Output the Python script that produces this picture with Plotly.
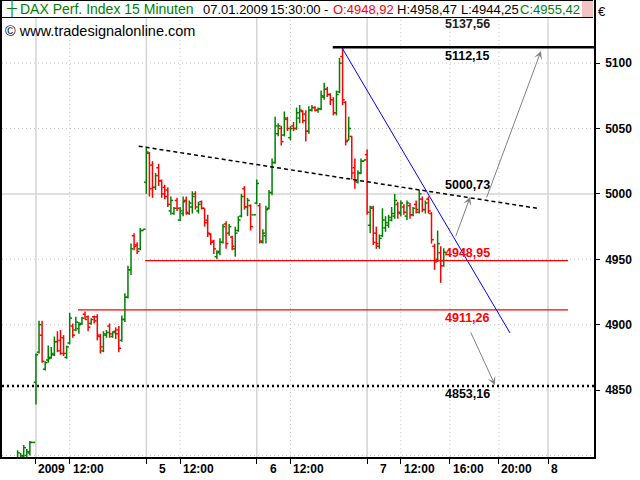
import plotly.graph_objects as go

# ---------------- data (15-minute bars, DAX) ----------------
first_bar = -114          # bar index of first bar; day starts: 2 Jan=-108, 5 Jan=-72, 6 Jan=-36, 7 Jan=0
opens = [4792, 4796, 4799, 4800, 4802, 4810,
         4856, 4879, 4892, 4866, 4873, 4875, 4877, 4887, 4888, 4890, 4875, 4886, 4899, 4896, 4897, 4901, 4908, 4906,
         4901, 4906, 4906, 4891, 4880, 4892, 4899, 4891, 4895, 4896, 4888, 4904, 4921, 4942, 4968, 4961, 4958, 4972,
         5009, 5031, 5022, 5005, 5020, 5010, 5005, 5003, 4987, 4985, 4995, 4980, 4985, 4995, 4985, 4990, 5000, 4987,
         4994, 4989, 4980, 4969, 4964, 4952, 4956, 4963, 4977, 4970, 4967, 4958, 4972, 4983, 5004, 4990, 4991, 4984,
         4993, 4991, 4963, 4968, 4989, 5001, 5024, 5046, 5050, 5045, 5057, 5043, 5052, 5050, 5058, 5063, 5061, 5048,
         5064, 5066, 5064, 5065, 5074, 5080, 5076, 5072, 5062, 5078, 5105, 5070, 5041, 5044, 5020, 5009, 5016, 5025,
         5030, 4976, 4989, 4970, 4960, 4968, 4974, 4976, 4980, 4983, 4992, 4985, 4990, 4983, 4991, 4984, 4992, 4986,
         4996, 4988, 4996, 4985, 4960, 4950, 4955, 4948.92]
highs = [4804, 4802, 4808, 4805, 4811, 4810,
         4878, 4903, 4903, 4872, 4884, 4883, 4891, 4895, 4896, 4892, 4884, 4909, 4901, 4906, 4902, 4906, 4910, 4907,
         4905, 4907, 4908, 4893, 4895, 4896, 4901, 4895, 4898, 4899, 4907, 4924, 4945, 4962, 4970, 4963, 4974, 4973,
         5035, 5032, 5025, 5016, 5023, 5011, 5007, 5005, 4998, 4990, 4997, 4990, 4998, 4998, 4995, 5002, 5002, 4994,
         4995, 4989, 4984, 4970, 4965, 4957, 4966, 4977, 4979, 4977, 4968, 4975, 4983, 5000, 5006, 4997, 4992, 4984,
         5011, 4993, 4973, 4991, 5003, 5027, 5059, 5054, 5052, 5063, 5059, 5052, 5055, 5066, 5068, 5064, 5064, 5067,
         5068, 5067, 5066, 5079, 5085, 5082, 5077, 5074, 5079, 5104, 5112.15, 5071, 5059, 5044, 5027, 5018, 5027, 5026,
         5034, 4991, 4991, 4975, 4969, 4989, 4983, 4984, 4990, 5000, 4994, 4995, 4992, 4995, 4993, 4990, 4995, 5003,
         4998, 4995, 4998, 4986, 4962, 4972, 4960, 4958.47]
lows = [4788, 4790, 4795, 4796, 4800, 4810,
        4839, 4878, 4871, 4865, 4871, 4874, 4876, 4879, 4877, 4876, 4874, 4885, 4890, 4895, 4893, 4900, 4904, 4895,
        4900, 4901, 4888, 4878, 4879, 4890, 4890, 4890, 4889, 4879, 4887, 4902, 4920, 4938, 4957, 4954, 4957, 4972,
        5000, 4998, 4997, 5003, 5006, 4997, 4996, 4990, 4984, 4984, 4987, 4979, 4983, 4984, 4984, 4985, 4988, 4985,
        4988, 4975, 4967, 4961, 4954, 4950, 4953, 4962, 4958, 4968, 4957, 4952, 4971, 4982, 4988, 4983, 4972, 4984,
        4992, 4962, 4962, 4962, 4988, 4999, 5023, 5044, 5037, 5044, 5048, 5041, 5048, 5049, 5054, 5054, 5040, 5046,
        5063, 5063, 5062, 5064, 5072, 5074, 5068, 5060, 5060, 5077, 5068, 5037, 5041, 5011, 5004, 5008, 5015, 5025,
        4984, 4970, 4961, 4958, 4958, 4967, 4971, 4974, 4979, 4981, 4981, 4983, 4984, 4980, 4981, 4983, 4985, 4985,
        4986, 4985, 4985, 4962, 4942, 4948, 4932, 4944.25]
closes = [4802, 4800, 4806, 4803, 4810, 4810,
          4877, 4900, 4872, 4871, 4874, 4878, 4887, 4880, 4878, 4878, 4883, 4905, 4892, 4902, 4900, 4905, 4904, 4898,
          4904, 4903, 4892, 4883, 4893, 4894, 4893, 4894, 4893, 4882, 4904, 4921, 4942, 4958, 4960, 4956, 4972, 4973,
          5032, 5004, 5005, 5014, 5010, 5000, 4998, 4992, 4995, 4989, 4989, 4987, 4994, 4986, 4993, 4998, 4990, 4992,
          4989, 4978, 4970, 4963, 4958, 4955, 4963, 4975, 4962, 4975, 4960, 4970, 4980, 4998, 4990, 4995, 4975, 4984,
          5008, 4964, 4970, 4988, 5001, 5024, 5052, 5052, 5040, 5058, 5050, 5050, 5050, 5062, 5064, 5056, 5048, 5064,
          5066, 5064, 5065, 5075, 5080, 5076, 5072, 5062, 5076, 5100, 5072, 5040, 5050, 5016, 5010, 5016, 5025, 5026,
          4986, 4990, 4963, 4962, 4966, 4980, 4978, 4982, 4985, 4995, 4986, 4993, 4986, 4993, 4984, 4989, 4988, 5000,
          4988, 4993, 4987, 4965, 4948, 4962, 4945, 4955.42]
bar_idx = list(range(first_bar, first_bar + len(opens)))

# time axis (bar index units)
tick_vals = [-108, -97, -72, -61, -36, -25, 0, 11, 27, 43, 59]
tick_text = ["2009", "12:00", "5", "12:00", "6", "12:00", "7", "12:00", "16:00", "20:00", "8"]
tick_label_shift = [0.5, 1, 11, 1, 11, 1, 11, 1, 1, 0.5, 0.5]
day_lines = [-108, -72, -36, 0, 59]
hour_lines = [-97, -61, -25, 11, 27, 43]
price_ticks = [4850, 4900, 4950, 5000, 5050, 5100]
grid_prices = [4800, 4850, 4900, 4950, 5050, 5100]
major_price = 5000
x_range = [-119.08, 74.0]
y_range = [4798.85, 5148.24]

# drawing tools
level_values = [5137.56, 5112.15, 5000.73, 4948.95, 4911.26, 4853.16]
level_colors = ["#202020", "black", "black", "red", "red", "black"]
level_label_shift = [-10, -9, 8, 8, -8, -8]
label_x = 24.6
resistance = 5112.15
resistance_start = -11.2
support_levels = [4948.95, 4911.26]
support_starts = [-72.4, -94.3]
support_end = 65.5
target_level = 4853.16
trend_x = [-74.5, 55.5]
trend_y = [5036.5, 4989.0]
down_x = [-8.3, 46.6]
down_y = [5112.15, 4893.7]
arrow_tail = [(28.7, 4966.3), (38.8, 4996.1), (33.6, 4895.2)]
arrow_head = [(33.6, 4997.6), (56.7, 5109.2), (41.7, 4853.9)]

GREEN = "#008000"
RED = "#FF0000"
FONT = "Liberation Sans, Arial, sans-serif"


def ohlc_path(up):
    xs, ys = [], []
    d = 0.75
    for i, o, h, l, c in zip(bar_idx, opens, highs, lows, closes):
        if (c >= o) != up:
            continue
        xs += [i, i, None, i - d, i, None, i, i + d, None]
        ys += [l, h, None, o, o, None, c, c, None]
    return xs, ys


fig = go.Figure()
for up, col in [(True, GREEN), (False, RED)]:
    xs, ys = ohlc_path(up)
    fig.add_trace(go.Scatter(x=xs, y=ys, mode="lines", line=dict(color=col, width=1.5),
                             hoverinfo="skip", showlegend=False))

shapes = []
# grid
for p in grid_prices:
    shapes.append(dict(type="line", xref="paper", x0=0, x1=1, yref="y", y0=p, y1=p,
                       line=dict(color="#C4C4C4", width=1, dash="1px,3px"), layer="below"))
shapes.append(dict(type="line", xref="paper", x0=0, x1=1, yref="y", y0=major_price, y1=major_price,
                   line=dict(color="#D4D4D4", width=1.5), layer="below"))
for t in hour_lines:
    shapes.append(dict(type="line", xref="x", x0=t, x1=t, yref="paper", y0=0, y1=1,
                       line=dict(color="#C4C4C4", width=1, dash="1px,3px"), layer="below"))
for t in day_lines:
    shapes.append(dict(type="line", xref="x", x0=t, x1=t, yref="paper", y0=0, y1=1,
                       line=dict(color="#D4D4D4", width=1.5), layer="below"))
# drawings
shapes.append(dict(type="line", xref="x", x0=resistance_start, x1=x_range[1], yref="y",
                   y0=resistance, y1=resistance, line=dict(color="black", width=2.5)))
for lv, st in zip(support_levels, support_starts):
    shapes.append(dict(type="line", xref="x", x0=st, x1=support_end, yref="y", y0=lv, y1=lv,
                       line=dict(color=RED, width=1.2)))
shapes.append(dict(type="line", xref="paper", x0=0, x1=1, yref="y", y0=target_level, y1=target_level,
                   line=dict(color="black", width=2.5, dash="2px,3px")))
shapes.append(dict(type="line", xref="x", x0=trend_x[0], x1=trend_x[1], yref="y", y0=trend_y[0], y1=trend_y[1],
                   line=dict(color="black", width=1.5, dash="4px,3px")))
shapes.append(dict(type="line", xref="x", x0=down_x[0], x1=down_x[1], yref="y", y0=down_y[0], y1=down_y[1],
                   line=dict(color="#0000FF", width=1)))

ann = []
# level labels (the top one is partly hidden by the title bar)
for v, c, s in zip(level_values, level_colors, level_label_shift):
    txt = f"{v:.2f}".replace(".", ",")
    ann.append(dict(x=label_x, y=v, xref="x", yref="y", text=txt, showarrow=False, xanchor="left",
                    yanchor="middle", yshift=s, font=dict(family=FONT, size=12.5, color=c, weight="bold")))
# arrows
for (tx, ty), (hx, hy) in zip(arrow_tail, arrow_head):
    ann.append(dict(x=hx, y=hy, ax=tx, ay=ty, xref="x", yref="y", axref="x", ayref="y", text="",
                    showarrow=True, arrowhead=3, arrowsize=1.4, arrowwidth=1, arrowcolor="#808080",
                    standoff=0, startstandoff=0))
# x tick labels (left aligned to ticks)
for v, t, s in zip(tick_vals, tick_text, tick_label_shift):
    ann.append(dict(x=v, y=0, xref="x", yref="paper", text=t, showarrow=False, xanchor="left",
                    yanchor="top", xshift=s, yshift=-3,
                    font=dict(family=FONT, size=12, color="black", weight="bold")))
# title bar
ann.append(dict(x=0, y=1, xref="paper", yref="paper", text=" ", showarrow=False, xanchor="left",
                yanchor="top", xshift=-1, width=590, height=16, bgcolor="white", bordercolor="black",
                borderwidth=1, borderpad=0))
ann.append(dict(x=1, y=1, xref="paper", yref="paper", text=" ", showarrow=False, xanchor="right",
                yanchor="top", xshift=-1, yshift=-1, width=11, height=16, bgcolor="#F4C4C4",
                borderwidth=0, borderpad=0))


def title_seg(px, text, color, size=13):
    return dict(x=0, y=1, xref="paper", yref="paper", text=text, showarrow=False, xanchor="left",
                yanchor="middle", xshift=px - 4, yshift=-9, font=dict(family=FONT, size=size, color=color))


fmt = lambda v: f"{v:.2f}".replace(".", ",")
ann.append(title_seg(6, "┼", GREEN, 14))
ann.append(title_seg(20, "DAX Perf. Index 15 Minuten", GREEN, 14))
ann.append(title_seg(203, "07.01.2009", "black"))
ann.append(title_seg(270, "15:30:00", "black"))
ann.append(title_seg(324, "-", "black"))
ann.append(title_seg(333, "O:" + fmt(opens[-1]), RED))
ann.append(title_seg(397, "H:" + fmt(highs[-1]), "black"))
ann.append(title_seg(461, "L:" + fmt(lows[-1]), "black"))
ann.append(title_seg(520, "C:" + fmt(closes[-1]), GREEN))
ann.append(dict(x=0, y=1, xref="paper", yref="paper", text="© www.tradesignalonline.com", showarrow=False,
                xanchor="left", yanchor="middle", xshift=1, yshift=-31,
                font=dict(family=FONT, size=14.5, color="black")))
ann.append(dict(x=1, y=1, xref="paper", yref="paper", text="€", showarrow=False, xanchor="center",
                yanchor="middle", xshift=8, yshift=-11, font=dict(family=FONT, size=13, color="black")))

fig.update_layout(
    width=640, height=480, template="none",
    margin=dict(l=2, r=46, t=0, b=23, autoexpand=False),
    paper_bgcolor="white", plot_bgcolor="white", showlegend=False,
    shapes=shapes, annotations=ann,
    xaxis=dict(range=x_range, tickvals=tick_vals, showticklabels=False, ticks="outside", ticklen=5,
               tickcolor="black", showgrid=False, zeroline=False, showline=True, linecolor="black",
               linewidth=1.5, mirror=True, automargin=False, fixedrange=True),
    yaxis=dict(range=y_range, side="right", tickvals=price_ticks, ticktext=[str(p) for p in price_ticks],
               ticks="outside", ticklen=4, tickcolor="black", showgrid=False, zeroline=False,
               showline=True, linecolor="black", linewidth=1.5, mirror=True, automargin=False,
               tickfont=dict(family=FONT, size=12, color="black", weight="bold"), ticklabelstandoff=3),
)

fig.write_html("out.html", config={"displayModeBar": False},
               post_script="document.body.style.margin='0px';document.body.style.padding='0px';")
